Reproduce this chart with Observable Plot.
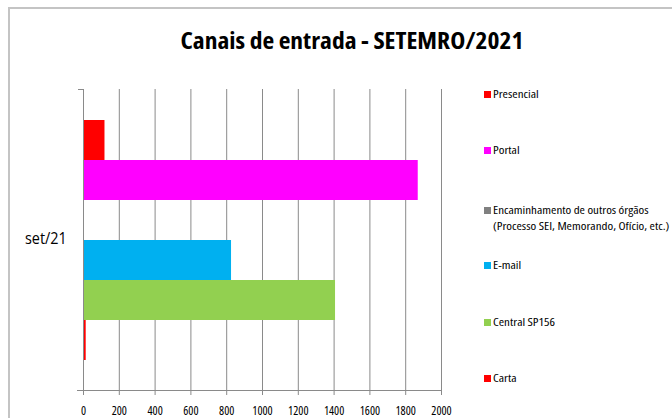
<!DOCTYPE html>
<html>
<head>
<meta charset="utf-8">
<script src="https://cdn.jsdelivr.net/npm/d3@7"></script>
<script src="https://cdn.jsdelivr.net/npm/@observablehq/plot@0.6"></script>
<style>
  html, body { margin: 0; padding: 0; background: #fff; }
  #wrap { position: relative; width: 672px; height: 418px; overflow: hidden;
          font-family: "Open Sans", sans-serif; font-stretch: 75%; }
  #border { position: absolute; left: 8px; top: 7px; width: 700px; height: 450px;
            border-top: 2px solid #c4c4c4; border-left: 2px solid #c4c4c4; }
  #title { position: absolute; left: 16px; width: 672px; top: 24px; text-align: center;
           font-size: 23px; font-weight: bold; color: #000; font-stretch: 75%; line-height: normal;
           transform: scaleX(1.11); transform-origin: 50% 50%; }
  #chart { position: absolute; left: 0; top: 0; }
  #legend { position: absolute; left: 484px; top: 0; font-size: 11px; color: #000; font-stretch: 75%; }
  .item { position: absolute; white-space: nowrap; line-height: 16px; }
  .sw { position: absolute; left: 0; width: 7px; height: 7px; }
  .lab { position: absolute; left: 9px; transform: scaleX(1.18); transform-origin: 0 0; }
  #cat { position: absolute; left: 25px; top: 227px; font-size: 16px; color: #000; font-stretch: 100%; line-height: 22px;
         transform: scaleX(0.9); transform-origin: 0 50%; }
</style>
</head>
<body>
<div id="wrap">
  <div id="border"></div>
  <div id="chart"></div>
  <div id="title">Canais de entrada - SETEMRO/2021</div>
  <div id="cat"></div>
  <div id="legend"></div>
</div>
<script>
const period = "set/21";
const channels = ["Presencial", "Portal", "Encaminhamento de outros órgãos (Processo SEI, Memorando, Ofício, etc.)", "E-mail", "Central SP156", "Carta"];
const legendLabels = ["Presencial", "Portal", "Encaminhamento de outros órgãos\n(Processo SEI, Memorando, Ofício, etc.)", "E-mail", "Central SP156", "Carta"];
const values = [120, 1870, 2, 827, 1408, 15];
const colors = ["#ff0000", "#ff00ff", "#808080", "#00b0f0", "#92d050", "#ff0000"];
const xTicks = [0, 200, 400, 600, 800, 1000, 1200, 1400, 1600, 1800, 2000];

const data = channels.map((c, i) => ({channel: c, value: values[i], color: colors[i]}));

const chart = Plot.plot({
  width: 672,
  height: 418,
  marginLeft: 83,
  marginRight: 231,
  marginTop: 89,
  marginBottom: 28,
  style: {fontFamily: '"Open Sans", sans-serif', fontStretch: "75%", fontSize: "12px", color: "#000", background: "transparent"},
  x: {domain: [0, 2000], axis: null},
  y: {domain: channels, paddingInner: 0, paddingOuter: 0.716, axis: null},
  marks: [
    Plot.ruleX(xTicks.slice(1), {stroke: "#8a8a8a", strokeWidth: 1, strokeOpacity: 1}),
    Plot.barX(data, {y: "channel", x: "value", fill: "color"}),
    Plot.frame({anchor: "left", stroke: "#8a8a8a"}),
    Plot.frame({anchor: "bottom", stroke: "#8a8a8a", insetLeft: -6}),
    Plot.frame({anchor: "top", stroke: "#8a8a8a", insetLeft: -5, insetRight: 358}),
    Plot.axisX({ticks: xTicks, tickSize: 5, tickPadding: 11, stroke: "#8a8a8a", tickFormat: d => String(d), fill: "#000", fontSize: 12, label: null})
  ]
});
document.getElementById("chart").appendChild(chart);
document.getElementById("cat").textContent = period;

const legendTops = [86, 142, 202, 257, 314, 370];
const legend = document.getElementById("legend");
legendLabels.forEach((l, i) => {
  const item = document.createElement("div");
  item.className = "item";
  item.style.top = legendTops[i] + "px";
  const sw = document.createElement("div");
  sw.className = "sw";
  sw.style.background = colors[i];
  sw.style.top = "5px";
  const lab = document.createElement("div");
  lab.className = "lab";
  lab.innerHTML = l.split("\n").join("<br>");
  item.appendChild(sw);
  item.appendChild(lab);
  legend.appendChild(item);
});
</script>
</body>
</html>
